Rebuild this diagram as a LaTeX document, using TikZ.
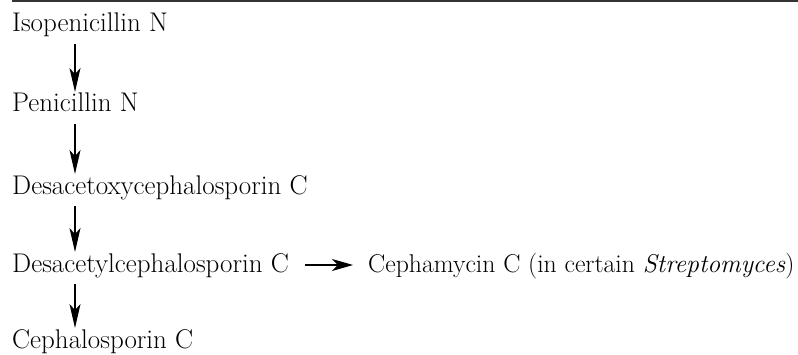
\documentclass[tikz,border=0pt]{standalone}
\usepackage{fontspec}
\usetikzlibrary{arrows.meta}
\tikzset{
  chem/.style={anchor=base west, inner sep=0pt, font=\fontsize{27}{32}\selectfont},
  chemr/.style={chem, font=\fontsize{25.7}{31}\selectfont},
  arr/.style={line width=1.2pt, -{Stealth[length=24pt, width=11pt, inset=6pt]}},
  harr/.style={line width=1.2pt, -{Stealth[length=21pt, width=12pt, inset=6pt]}}
}
\begin{document}
\begin{tikzpicture}[x=1pt, y=1pt]
\useasboundingbox (0,0) rectangle (798,354);
\draw[line width=2pt, draw=black!80] (12,353) coordinate (rl) -- (798,353) coordinate (rr);
\node[chem] (iso) at (12,322) {Isopenicillin N};
\node[chem] (pen) at (12,242) {Penicillin N};
\node[chem] (dox) at (12,160) {Desacetoxycephalosporin C};
\node[chem] (dyl) at (12,82) {Desacetylcephalosporin C};
\node[chem] (cep) at (12,6) {Cephalosporin C};
\node[chemr] (cmy) at (368,82) {Cephamycin C (in certain \textit{Streptomyces})};
\draw[arr] ([shift={(63,-12)}]iso.base west) -- ([shift={(63,20)}]pen.base west);
\draw[arr] ([shift={(63,-12)}]pen.base west) -- ([shift={(63,20)}]dox.base west);
\draw[arr] ([shift={(63,-12)}]dox.base west) -- ([shift={(63,20)}]dyl.base west);
\draw[arr] ([shift={(63,-12)}]dyl.base west) -- ([shift={(63,20)}]cep.base west);
\draw[harr] ([shift={(16,7)}]dyl.base east) -- ([shift={(-15,7)}]cmy.base west);
\end{tikzpicture}
\end{document}
